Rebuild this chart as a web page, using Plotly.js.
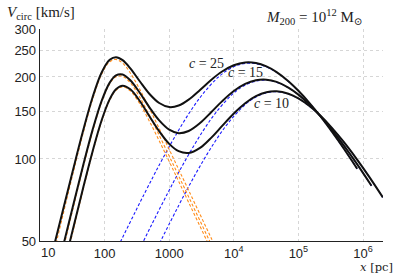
<!DOCTYPE html>
<html><head><meta charset="utf-8">
<script src="https://cdn.plot.ly/plotly-3.0.1.min.js"></script>
<style>html,body{margin:0;padding:0;background:#fff;}#chart{width:395px;height:273px;}</style>
</head><body><div id="chart"></div>
<script>
// ---- data: radius x [pc], circular velocity [km/s] ----
const concentrations = ["25", "15", "10"];

// total rotation curves (black)
const rTot25 = [10,15,22,32,46,65,90,120,150,190,250,350,500,700,1000,1400,2000,3000,4500,6500,10000,15000,22000,32000,46000,70000,100000,150000,220000,330000,500000,812000];
const vTot25 = [30.1,43.9,63.1,90.0,125.8,168.1,207.8,231.2,236.4,230.6,215.1,192.9,172.8,160.5,155.1,157.1,165.2,179.3,195.4,209.0,220.8,226.0,224.9,218.6,208.4,193.0,178.0,160.1,143.2,125.9,109.5,92.1];
const rTot15 = [10,15,22,32,46,65,90,120,150,190,250,350,500,700,1000,1400,2000,3000,4500,6500,10000,15000,22000,32000,46000,70000,100000,150000,220000,330000,500000,800000,1353000];
const vTot15 = [21.9,32.1,46.3,66.4,93.7,127.6,163.5,190.7,202.7,204.2,194.5,175.0,154.1,138.5,128.1,124.4,126.7,135.5,148.8,162.4,177.6,188.6,194.5,195.5,191.9,182.9,172.3,158.1,143.6,128.0,112.5,96.2,79.8];
const rTot10 = [10,15,22,32,46,65,90,120,150,190,250,350,500,700,1000,1400,2000,3000,4500,6500,10000,15000,22000,32000,46000,70000,100000,150000,220000,330000,500000,800000,1250000,2030000];
const vTot10 = [17.9,26.3,38.0,54.7,77.5,106.4,138.7,165.8,180.3,185.8,180.2,163.3,143.0,126.4,113.6,106.8,105.2,109.8,119.8,131.7,146.9,160.2,170.0,175.8,177.1,173.6,166.9,156.1,144.0,130.1,115.7,99.9,86.0,72.3];

// inner (baryonic) component (orange dashed)
const rInner = [10,15,22,32,46,65,90,120,150,190,250,350,500,700,1000,1400,2000,3000,4500,6500];
const vInner25 = [27.6,41.4,60.5,87.4,123.1,165.3,204.7,227.5,231.9,224.8,206.9,180.1,152.4,129.4,108.4,91.6,76.7,62.6,51.1,42.5];
const vInner15 = [20.4,30.6,44.8,64.9,92.1,125.9,161.8,188.7,200.3,201.2,190.4,168.6,143.7,122.2,102.5,86.7,72.6,59.3,48.4,40.3];
const vInner10 = [16.8,25.3,37.0,53.6,76.4,105.3,137.5,164.5,178.8,184.0,177.8,159.6,136.8,116.6,97.9,82.8,69.3,56.6,46.2,38.5];

// dark halo component (blue dashed)
const rHalo25 = [81,162,325,568,812,1218,2030,3248,5684,8120,12180,17539,24360,40600,64960,105560,162400,284200,487200,812000];
const vHalo25 = [33.9,47.7,66.6,86.4,101.4,120.5,147.1,172.2,199.2,212.4,222.0,224.8,222.6,211.6,195.5,175.3,156.3,132.0,110.4,92.0];
const rHalo15 = [135,271,541,947,1353,2030,3383,5412,9471,13530,20295,29225,40590,67650,108240,175890,270600,473550,811800,1353000];
const vHalo15 = [29.4,41.3,57.7,74.9,87.9,104.4,127.4,149.2,172.6,184.1,192.3,194.8,192.9,183.4,169.4,151.9,135.5,114.4,95.6,79.7];
const rHalo10 = [203,406,812,1421,2030,3045,5075,8120,14210,20300,30450,43848,60900,101500,162400,263900,406000,710500,1218000,2030000];
const vHalo10 = [26.7,37.5,52.3,67.9,79.7,94.7,115.5,135.3,156.5,166.9,174.3,176.6,174.9,166.2,153.5,137.7,122.8,103.7,86.7,72.3];

// axes ticks (the first x label sits slightly right of its tick in the original)
const xTickVals = [10, 100, 1000, 1e4, 1e5, 1e6];
const xTickText = ["10", "100", "1000", "10<sup>4</sup>", "10<sup>5</sup>", "10<sup>6</sup>"];
const yTickVals = [50, 100, 150, 200, 250, 300];
const yTickText = ["50", "100", "150", "200", "250", "300"];

// label positions for the concentration labels (data coords)
const labelX = [3713, 14910, 38340];
const labelY = [225, 207.4, 160.5];

// ---- traces ----
const haloSets = [[rHalo25, vHalo25], [rHalo15, vHalo15], [rHalo10, vHalo10]];
const innerSets = [vInner25, vInner15, vInner10];
const totSets = [[rTot25, vTot25], [rTot15, vTot15], [rTot10, vTot10]];
const traces = [];
haloSets.forEach(function (s) {
  traces.push({x: s[0], y: s[1], type: "scatter", mode: "lines", hoverinfo: "skip",
    line: {color: "#1a1aff", width: 1.1, dash: "3px,2px", shape: "spline", smoothing: 1}});
});
innerSets.forEach(function (v) {
  traces.push({x: rInner, y: v, type: "scatter", mode: "lines", hoverinfo: "skip",
    line: {color: "#ff8c1a", width: 1.1, dash: "3px,2px", shape: "spline", smoothing: 1}});
});
totSets.forEach(function (s) {
  traces.push({x: s[0], y: s[1], type: "scatter", mode: "lines", hoverinfo: "skip",
    line: {color: "#111111", width: 2, shape: "spline", smoothing: 1}});
});

const serif = "Liberation Serif, DejaVu Serif, serif";
const sans = "Liberation Sans, Arial, sans-serif";
const annotations = [];
concentrations.forEach(function (c, i) {
  annotations.push({x: Math.log10(labelX[i]), y: Math.log10(labelY[i]), xref: "x", yref: "y",
    text: "<i>c</i> = " + c, showarrow: false, xanchor: "center", yanchor: "middle",
    font: {family: serif, size: 14, color: "#222"}});
});
// first x tick label, nudged right as in the original
annotations.push({x: 0.0219, y: -0.055, xref: "paper", yref: "paper", xanchor: "center", yanchor: "middle",
  text: xTickText[0], showarrow: false, font: {family: sans, size: 13, color: "#222"}});
annotations.push({x: -0.102, y: 1.075, xref: "paper", yref: "paper", xanchor: "left", yanchor: "middle",
  text: "<i>V</i><sub>circ</sub> [km/s]", showarrow: false, font: {family: serif, size: 15, color: "#222"}});
annotations.push({x: 0.8017, y: 1.056, xref: "paper", yref: "paper", xanchor: "center", yanchor: "middle",
  text: "<i>M</i><sub>200</sub> = 10<sup>12</sup> M<sub>⊙</sub>", showarrow: false, font: {family: serif, size: 15, color: "#222"}});
annotations.push({x: 0.982, y: -0.123, xref: "paper", yref: "paper", xanchor: "center", yanchor: "middle",
  text: "<i>x</i> [pc]", showarrow: false, font: {family: "DejaVu Serif, serif", size: 11.5, color: "#222"}});

const axisCommon = {
  type: "log", showgrid: true, gridcolor: "#d6d6d6", gridwidth: 1, griddash: "3px,3px",
  showline: true, linecolor: "#222", linewidth: 1.3, ticks: "", zeroline: false,
  tickfont: {family: sans, size: 13, color: "#222"}
};

const layout = {
  width: 395, height: 273,
  margin: {l: 40, r: 12, t: 29, b: 32, pad: 0},
  paper_bgcolor: "#ffffff", plot_bgcolor: "#ffffff",
  showlegend: false,
  xaxis: Object.assign({}, axisCommon, {range: [1, 6.3096], tickmode: "array", tickvals: xTickVals,
    ticktext: [""].concat(xTickText.slice(1))}),
  yaxis: Object.assign({}, axisCommon, {range: [Math.log10(50), Math.log10(300)], tickmode: "array", tickvals: yTickVals, ticktext: yTickText}),
  annotations: annotations
};

Plotly.newPlot("chart", traces, layout, {staticPlot: true, displayModeBar: false});
</script></body></html>
